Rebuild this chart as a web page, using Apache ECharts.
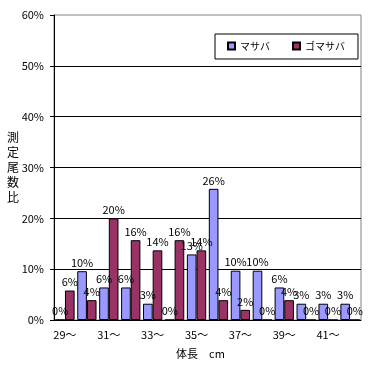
<!DOCTYPE html>
<html>
<head>
<meta charset="utf-8">
<script src="https://cdn.jsdelivr.net/npm/echarts@6/dist/echarts.min.js"></script>
<style>html,body{margin:0;padding:0;background:#fff;}#c{width:372px;height:365px;}</style>
</head>
<body>
<div id="c"></div>
<script>
var categories = ['29〜','30〜','31〜','32〜','33〜','34〜','35〜','36〜','37〜','38〜','39〜','40〜','41〜','42〜'];
var masaba = [0, 9.6, 6.4, 6.4, 3.2, 0, 12.9, 25.8, 9.7, 9.7, 6.4, 3.2, 3.2, 3.2];
var gomasaba = [5.8, 3.9, 20, 15.7, 13.7, 15.7, 13.7, 3.9, 2, 0, 3.9, 0, 0, 0];
var yTicks = [0, 10, 20, 30, 40, 50, 60];

var FONT = '"Noto Sans CJK JP", sans-serif';
var chart = echarts.init(document.getElementById('c'), null, {renderer: 'canvas'});
var lbl = {
  show: true, position: 'top', distance: 3, color: '#000', fontSize: 11, fontFamily: FONT,
  formatter: function (p) { return Math.round(p.value) + '%'; }
};
chart.setOption({
  animation: false,
  backgroundColor: '#fff',
  textStyle: {fontFamily: FONT},
  grid: {left: 54, top: 15, right: 11, bottom: 45, show: true, borderColor: '#808080', borderWidth: 1, backgroundColor: 'transparent'},
  legend: {
    left: 215, top: 34,
    padding: [7, 13, 8, 12],
    borderColor: '#000', borderWidth: 1, backgroundColor: '#fff',
    itemWidth: 7, itemHeight: 7, itemGap: 22,
    icon: 'rect',
    textStyle: {fontSize: 10, color: '#000', fontFamily: FONT},
    data: ['マサバ', 'ゴマサバ']
  },
  xAxis: {
    type: 'category', data: categories,
    name: '体長　cm', nameLocation: 'middle', nameGap: 28,
    nameTextStyle: {fontSize: 11, color: '#000', fontFamily: FONT, padding: [0, 14, 0, 0]},
    axisLine: {lineStyle: {color: '#000', width: 1}},
    axisTick: {show: false},
    axisLabel: {interval: 1, color: '#000', fontSize: 11, fontFamily: FONT, margin: 9}
  },
  yAxis: {
    type: 'value', min: yTicks[0], max: yTicks[yTicks.length - 1], interval: 10,
    name: '測\n定\n尾\n数\n比', nameLocation: 'middle', nameRotate: 0, nameGap: 35,
    nameMoveOverlap: false,
    nameTextStyle: {fontSize: 12, color: '#000', fontFamily: FONT, lineHeight: 15},
    axisLine: {show: true, lineStyle: {color: '#000', width: 1}},
    axisTick: {show: true, length: 4, lineStyle: {color: '#000'}},
    axisLabel: {color: '#000', fontSize: 11, fontFamily: FONT, margin: 10, formatter: '{value}%'},
    splitLine: {show: true, showMaxLine: false, lineStyle: {color: '#000', width: 1}}
  },
  series: [
    {name: 'マサバ', type: 'bar', data: masaba, barGap: '0%', barCategoryGap: '12%',
     itemStyle: {color: '#9999FF', borderColor: '#000', borderWidth: 1}, label: lbl},
    {name: 'ゴマサバ', type: 'bar', data: gomasaba, barGap: '0%', barCategoryGap: '12%',
     itemStyle: {color: '#993366', borderColor: '#000', borderWidth: 1}, label: lbl}
  ]
});
</script>
</body>
</html>
